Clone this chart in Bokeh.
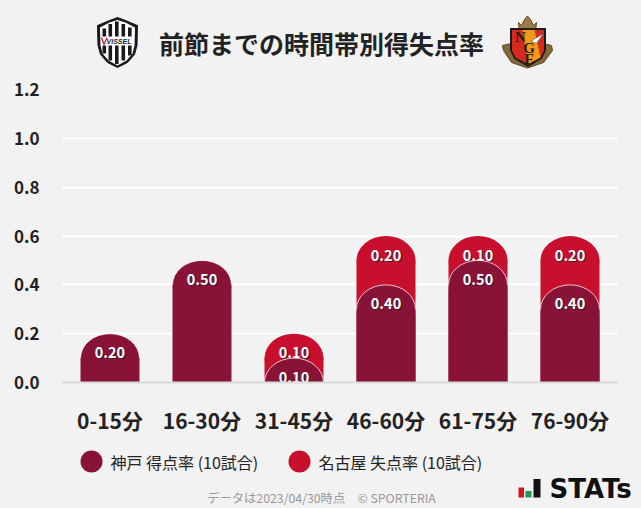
from bokeh.plotting import figure
from bokeh.layouts import column, row
from bokeh.models import ColumnDataSource, FactorRange, Range1d, NumeralTickFormatter
from bokeh.core.properties import value
from bokeh.embed import file_html
from bokeh.resources import INLINE

# ---- data
periods = ["0-15分", "16-30分", "31-45分", "46-60分", "61-75分", "76-90分"]
kobe_scored = [0.20, 0.50, 0.10, 0.40, 0.50, 0.40]
nagoya_conceded = [0.0, 0.0, 0.10, 0.20, 0.10, 0.20]
y_ticks = [0.0, 0.2, 0.4, 0.6, 0.8, 1.0, 1.2]
title_text = "前節までの時間帯別得失点率"
legend_kobe = "神戸 得点率 (10試合)"
legend_nagoya = "名古屋 失点率 (10試合)"
footer_text = "データは2023/04/30時点　© SPORTERIA"

# ---- style
BG = "#f2f2f2"
DARK = "#881337"
RED = "#c8102e"
INK = "#222222"
FONT = value("Noto Sans CJK JP")
W = 641
CAP = 0.1   # height of the round bar head, in data units
BAR_W = 0.641


def band(height, y_top, y_bottom):
    f = figure(width=W, height=height, x_range=Range1d(0, W), y_range=Range1d(y_bottom, y_top),
               output_backend="svg", toolbar_location=None, min_border=0,
               background_fill_color=BG, border_fill_color=BG, outline_line_color=None)
    f.axis.visible = False
    f.grid.visible = False
    return f


# ---- header band (page pixel coordinates)
head = band(75, 0, 75)
head.text(x=[321], y=[42], text=[title_text], text_font=FONT, text_font_style="bold",
          text_font_size="25px", text_color=INK, text_align="center", text_baseline="middle")

# Vissel crest
sx = [117, 125, 137, 136.5, 134, 127, 117, 107, 100, 97.5, 97, 109]
sy = [17, 20, 25, 45, 54, 62, 67, 62, 54, 45, 25, 20]
head.patch(sx, sy, fill_color="#1a1a1a", line_color="#1a1a1a")
ix = [117, 125, 134.5, 134, 132, 126, 117, 108, 102, 100, 99.5, 109]
iy = [19.5, 22, 27, 45, 53, 60, 65, 60, 53, 45, 27, 22]
head.patch(ix, iy, fill_color="#ffffff", line_color=None)
st_left = [102, 108, 114.5, 121, 127.5]
st_w = 3.6
head.quad(left=st_left, right=[v + st_w for v in st_left], top=[28, 23.5, 21, 23.5, 27],
          bottom=[36, 36, 36, 36, 36], fill_color="#1a1a1a", line_color=None)
head.quad(left=st_left, right=[v + st_w for v in st_left], top=[45] * 5,
          bottom=[53, 60, 63.5, 60, 55], fill_color="#1a1a1a", line_color=None)
head.text(x=[118.5], y=[40.5], text=["VISSEL"], text_font=value("Liberation Sans"), text_font_style="bold italic",
          text_font_size="7px", text_color="#1a1a1a", text_align="center", text_baseline="middle")
head.line([101, 103.5, 106.5], [37, 44, 37], line_color=RED, line_width=1.2)

# Nagoya crest
head.patch([502, 511, 511, 543, 543, 551, 552, 543, 527, 511, 503],
           [45, 43, 50, 50, 43, 45, 50, 62, 67.5, 62, 50], fill_color="#84683a", line_color="#5a4526")
head.patch([518, 521, 524, 527, 530, 533, 536, 535, 519],
           [22, 25, 19, 15.5, 19, 25, 22, 31, 31], fill_color="#9a7d45", line_color="#5c4728")
head.patch([510, 545, 545, 541, 527.5, 514, 510], [28, 28, 50, 58, 66, 58, 50], fill_color="#1c1c1c", line_color="#1c1c1c")
head.patch([511.5, 543.5, 543.5, 540, 527.5, 515, 511.5], [29.5, 29.5, 50, 57, 64, 57, 50], fill_color="#d52b1e", line_color=None)
head.patch([522, 534, 540, 532, 527.5], [29.5, 29.5, 57, 61, 64], fill_color="#f09a1a", line_color=None)
head.patch([533, 543, 536, 531], [39, 33, 43, 41], fill_color="#ffffff", line_color="#333333", line_width=0.5)
head.text(x=[520, 528.5, 529], y=[36, 47, 58], text=["N", "G", "E"], text_font=value("Liberation Serif"), text_font_style="bold",
          text_font_size="15px", text_color="#241a12", text_align="center", text_baseline="middle")

# ---- chart
totals = [k + n for k, n in zip(kobe_scored, nagoya_conceded)]
kobe_src = ColumnDataSource(dict(
    period=periods,
    value=kobe_scored,
    shoulder=[v - CAP for v in kobe_scored],
    label=[f"{v:.2f}" for v in kobe_scored],
))
red_idx = [i for i, n in enumerate(nagoya_conceded) if n > 0]
red_src = ColumnDataSource(dict(
    period=[periods[i] for i in red_idx],
    value=[totals[i] for i in red_idx],
    shoulder=[totals[i] - CAP for i in red_idx],
    label=[f"{nagoya_conceded[i]:.2f}" for i in red_idx],
))

p = figure(width=W, height=363, x_range=FactorRange(factors=periods, range_padding=0.009),
           y_range=Range1d(0, 1.2), output_backend="svg", toolbar_location=None,
           background_fill_color=BG, border_fill_color=BG, outline_line_color=None,
           min_border_left=61, min_border_right=23, min_border_top=14, min_border_bottom=56)
p.xgrid.visible = False
p.ygrid.grid_line_color = "#ffffff"
p.ygrid.grid_line_width = 2
p.yaxis.ticker = y_ticks
p.yaxis.formatter = NumeralTickFormatter(format="0.0")
p.yaxis.axis_line_color = None
p.yaxis.major_tick_line_color = None
p.yaxis.minor_tick_line_color = None
p.yaxis.major_label_standoff = 16
p.yaxis.major_label_text_font = "Noto Sans CJK JP"
p.yaxis.major_label_text_font_style = "bold"
p.yaxis.major_label_text_font_size = "17px"
p.yaxis.major_label_text_color = INK
p.xaxis.axis_line_color = "#d9d9d9"
p.xaxis.axis_line_width = 2
p.xaxis.major_tick_line_color = None
p.xaxis.minor_tick_line_color = None
p.xaxis.major_label_standoff = 16
p.xaxis.major_label_text_font = "Noto Sans CJK JP"
p.xaxis.major_label_text_font_style = "bold"
p.xaxis.major_label_text_font_size = "21px"
p.xaxis.major_label_text_color = INK


def bars(src, color, stroke):
    p.ellipse(x="period", y="shoulder", width=BAR_W, height=2 * CAP, source=src, fill_color=color,
              line_color=stroke, line_alpha=0.75, line_width=1)
    p.vbar(x="period", bottom=0, top="shoulder", width=BAR_W, source=src, fill_color=color, line_color=None)


def labels(src):
    p.text(x="period", y="value", text="label", source=src, y_offset=20, x_offset=1, text_color="#222222", text_alpha=0.8,
           text_font=FONT, text_font_style="bold", text_font_size="14.5px",
           text_align="center", text_baseline="middle")
    p.text(x="period", y="value", text="label", source=src, y_offset=19, text_color="#ffffff",
           text_font=FONT, text_font_style="bold", text_font_size="14.5px",
           text_align="center", text_baseline="middle")


bars(red_src, RED, None)
labels(red_src)
bars(kobe_src, DARK, "#ffffff")
labels(kobe_src)

# ---- footer band (page pixel coordinates)
foot = band(70, 438, 508)
foot.scatter(x=[91, 299], y=[461, 461], size=22, marker="circle", fill_color=[DARK, RED], line_color=None)
foot.text(x=[110, 318], y=[461, 461], text=[legend_kobe, legend_nagoya], text_font=FONT, text_font_size="16px",
          text_color=INK, text_align="left", text_baseline="middle")
foot.text(x=[321], y=[497], text=[footer_text], text_font=FONT, text_font_size="12.3px", text_color="#999999",
          text_align="center", text_baseline="middle")
foot.quad(left=[518, 525, 533], right=[523.5, 531, 540], top=[487, 490.5, 478.5], bottom=[497, 497, 497],
          fill_color=["#d8121f", "#1f9a4a", "#111111"], line_color=None)
foot.text(x=[549], y=[488], text=["STATs"], text_font=value("DejaVu Sans"), text_font_style="bold",
          text_font_size="26px", text_color="#111111", text_align="left", text_baseline="middle")

page = column(head, row(p), foot, spacing=0)
html = file_html(page, INLINE, title="前節までの時間帯別得失点率")
html = html.replace("</head>", "<style>html,body{background:#f2f2f2}</style></head>")
open("out.html", "w").write(html)
